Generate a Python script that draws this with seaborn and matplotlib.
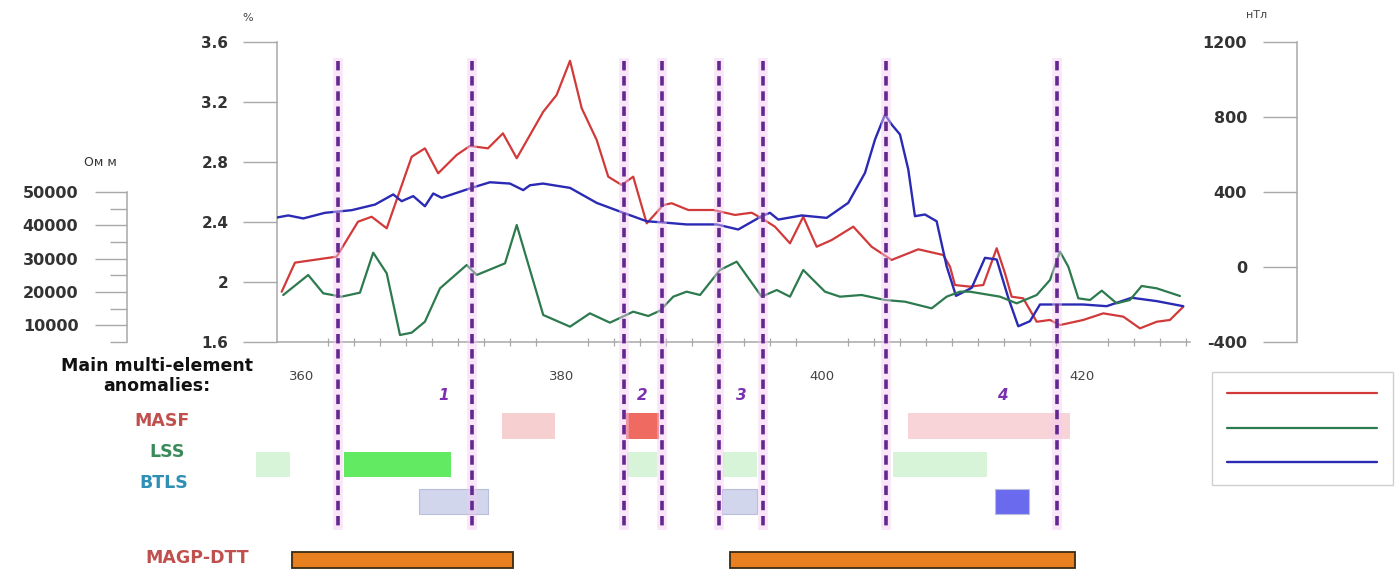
import matplotlib
matplotlib.use("Agg")
import matplotlib.pyplot as plt
from matplotlib.ticker import MultipleLocator
import pandas as pd
import seaborn as sns

# ---- Profile data (distance along profile, km) ----
red_km = [358.44, 359.46, 362.67, 364.31, 365.36, 366.52, 368.44, 369.46, 370.48, 371.90,
          372.92, 374.31, 375.46, 376.52, 378.56, 379.59, 380.62, 381.52, 382.67, 383.56,
          384.59, 385.48, 386.52, 387.79, 388.44, 389.72, 391.64, 393.31, 394.59, 395.36,
          396.38, 397.54, 398.56, 399.59, 400.75, 402.41, 403.82, 405.36, 407.41, 409.33,
          409.85, 410.23, 411.38, 412.41, 413.44, 414.08, 414.59, 415.48, 416.52, 417.54,
          418.31, 420.10, 421.64, 423.18, 424.46, 425.75, 426.77, 427.79]
red_pct = [1.935, 2.129, 2.169, 2.402, 2.435, 2.358, 2.835, 2.891, 2.725, 2.847,
           2.907, 2.891, 2.991, 2.825, 3.135, 3.247, 3.475, 3.158, 2.947, 2.702,
           2.647, 2.702, 2.391, 2.513, 2.525, 2.480, 2.480, 2.447, 2.462, 2.425,
           2.369, 2.258, 2.435, 2.235, 2.280, 2.369, 2.235, 2.147, 2.218, 2.180,
           2.102, 1.980, 1.969, 1.980, 2.225, 2.058, 1.902, 1.891, 1.735, 1.747,
           1.713, 1.747, 1.791, 1.769, 1.691, 1.735, 1.747, 1.835]

green_km = [358.56, 360.48, 361.64, 363.05, 364.46, 365.48, 366.52, 367.54, 368.44, 369.46,
            370.62, 372.67, 373.44, 375.62, 376.52, 378.56, 380.62, 382.15, 383.69, 385.48,
            386.64, 387.54, 388.56, 389.59, 390.62, 392.15, 393.44, 395.36, 396.52, 397.54,
            398.56, 400.23, 401.38, 403.05, 404.85, 406.38, 408.44, 409.59, 410.62, 411.38,
            413.69, 414.98, 416.52, 417.54, 418.31, 418.95, 419.72, 420.62, 421.52, 422.67,
            423.69, 424.59, 425.75, 427.54]
green_ohm = [19100, 25100, 19600, 18600, 19800, 31800, 25600, 7100, 7800, 11100,
             21100, 28100, 25100, 28600, 40100, 13100, 9600, 13600, 10800, 14100,
             12800, 14400, 18600, 20100, 19100, 26600, 29100, 18600, 20600, 18600,
             26600, 20100, 18600, 19100, 17600, 17100, 15100, 18600, 20100, 20100,
             18600, 16600, 19100, 23600, 32100, 27600, 18100, 17600, 20400, 16600,
             17600, 21800, 21100, 18800]

blue_km = [357.92, 358.95, 360.10, 361.77, 363.82, 365.62, 367.02, 367.67, 368.56, 369.46,
           370.10, 370.75, 373.05, 374.46, 376.00, 377.02, 377.54, 378.54, 380.62, 382.67,
           384.72, 386.52, 388.05, 389.59, 391.90, 393.56, 395.36, 396.00, 396.64, 398.44,
           400.36, 402.02, 403.31, 404.08, 404.85, 405.36, 406.00, 406.64, 407.15, 407.92,
           408.82, 409.59, 410.31, 411.52, 412.54, 413.44, 414.33, 415.10, 416.00, 416.77,
           418.31, 420.10, 421.90, 423.82, 425.75, 427.79]
blue_nt = [262, 275, 259, 289, 303, 333, 387, 351, 378, 324,
           392, 369, 422, 452, 445, 410, 436, 445, 422, 342,
           289, 244, 236, 227, 227, 200, 271, 289, 253, 275,
           262, 342, 502, 680, 813, 760, 707, 520, 271, 280,
           244, 4, -154, -111, 49, 40, -164, -316, -289, -200,
           -200, -200, -209, -164, -182, -209]

# ---- Anomaly zones ----
zone_bounds = [362.8, 373.1, 384.8, 387.7, 392.1, 395.5, 404.9, 418.1]
zone_names = ["1", "2", "3", "4"]
zone_name_km = [370.9, 386.2, 393.8, 413.9]

masf_spans = [(375.4, 379.5), (384.9, 387.5), (406.6, 419.1)]
masf_colors = ["#f6d0d0", "#ef6b62", "#f8d4d8"]
lss_spans = [(356.5, 359.1), (363.2, 371.5), (385.0, 387.3), (392.4, 395.0), (405.5, 412.7)]
lss_colors = ["#d8f4d8", "#62ea62", "#d8f4d8", "#d8f4d8", "#d8f4d8"]
btls_spans = [(369.0, 374.3), (392.3, 395.0), (413.3, 415.9)]
btls_colors = ["#d2d6ec", "#d2d6ec", "#6a6aee"]
magp_spans = [(359.2, 376.2), (392.9, 419.5)]

pct_ticks = [1.6, 2.0, 2.4, 2.8, 3.2, 3.6]
pct_labels = ["1.6", "2", "2.4", "2.8", "3.2", "3.6"]
ohm_ticks = [10000, 20000, 30000, 40000, 50000]
nt_ticks = [-400, 0, 400, 800, 1200]
km_ticks = [360, 380, 400, 420]

RED, GREEN, BLUE = "#d23a3a", "#2d7a4e", "#2a2ab4"
GRID_GRAY = "#a8a8a8"
TXT = "#333333"
PURPLE = "#62288f"

sns.set_theme(style="white")
plt.rcParams["font.family"] = ["DejaVu Sans"]
plt.rcParams["axes.unicode_minus"] = False

W, H = 1400, 573
def fx(px):
    return px / W
def fy(py):
    return 1 - py / H

fig = plt.figure(figsize=(W / 100, H / 100), dpi=100)
fig.patch.set_facecolor("white")

L, R, T, B = 277, 1190, 42, 342
ax = fig.add_axes([fx(L), fy(B), (R - L) / W, (B - T) / H])
ax.set_facecolor("white")
ax.set_xlim(358.08, 428.31)
ax.set_ylim(1.6, 3.6)

ax_nt = ax.twinx()
ax_nt.set_ylim(-400, 1200)
ax_ohm = ax.twinx()
ax_ohm.set_ylim(5000, 95000)

df_red = pd.DataFrame({"km": red_km, "v": red_pct})
df_green = pd.DataFrame({"km": green_km, "v": green_ohm})
df_blue = pd.DataFrame({"km": blue_km, "v": blue_nt})

sns.lineplot(data=df_red, x="km", y="v", ax=ax, color=RED, linewidth=1.6, estimator=None)
sns.lineplot(data=df_green, x="km", y="v", ax=ax_ohm, color=GREEN, linewidth=1.6, estimator=None)
sns.lineplot(data=df_blue, x="km", y="v", ax=ax_nt, color=BLUE, linewidth=1.7, estimator=None)
red_line = ax.get_lines()[-1]
green_line = ax_ohm.get_lines()[-1]
blue_line = ax_nt.get_lines()[-1]

for a in (ax, ax_nt, ax_ohm):
    a.set_xlabel("")
    a.set_ylabel("")
    for s in a.spines.values():
        s.set_visible(False)
        s.set_color(GRID_GRAY)
        s.set_linewidth(1.1)

# main axis: percent on the left, distance along the bottom
ax.spines["left"].set_visible(True)
ax.spines["bottom"].set_visible(True)
ax.set_yticks(pct_ticks, labels=pct_labels)
ax.tick_params(axis="y", which="major", direction="out", length=24.5, width=1.0,
               color=GRID_GRAY, pad=10.5, labelsize=11, labelcolor=TXT)
for t in ax.get_yticklabels():
    t.set_fontweight("bold")
ax.set_xticks(km_ticks, labels=[str(v) for v in km_ticks])
ax.xaxis.set_minor_locator(MultipleLocator(2))
ax.tick_params(axis="x", which="major", direction="out", length=9.5, width=1.0,
               color=GRID_GRAY, pad=11, labelsize=9.5, labelcolor="#444444")
ax.tick_params(axis="x", which="minor", direction="inout", length=6, width=0.9,
               color=GRID_GRAY, bottom=True)

# magnetic field axis on the far right, labels to the left of it
ax_nt.spines["left"].set_visible(True)
ax_nt.spines["left"].set_position(("axes", (1297 - L) / (R - L)))
ax_nt.yaxis.set_ticks_position("left")
ax_nt.set_yticks(nt_ticks, labels=[str(v) for v in nt_ticks])
ax_nt.tick_params(axis="y", which="major", direction="out", length=24.5, width=1.0,
                  color=GRID_GRAY, pad=11.5, labelsize=11.5, labelcolor=TXT)
for t in ax_nt.get_yticklabels():
    t.set_fontweight("bold")

# resistivity axis, offset to the left and spanning its own range
ax_ohm.spines["left"].set_visible(True)
ax_ohm.spines["left"].set_position(("axes", (127 - L) / (R - L)))
ax_ohm.spines["left"].set_bounds(5000, 50000)
ax_ohm.yaxis.set_ticks_position("left")
ax_ohm.set_yticks(ohm_ticks, labels=[str(v) for v in ohm_ticks])
ax_ohm.set_yticks([5000, 15000, 25000, 35000, 45000], minor=True)
ax_ohm.tick_params(axis="y", which="major", direction="out", length=23, width=1.0,
                   color=GRID_GRAY, pad=12, labelsize=11.5, labelcolor=TXT)
ax_ohm.tick_params(axis="y", which="minor", direction="out", length=12, width=1.0,
                   color=GRID_GRAY, left=True)
for t in ax_ohm.get_yticklabels():
    t.set_fontweight("bold")

# units
fig.text(fx(248), fy(18), "%", fontsize=8, color="#444444", ha="center", va="center")
fig.text(fx(1257), fy(15), "нТл", fontsize=8, color="#444444", ha="center", va="center")
fig.text(fx(100), fy(163), "Ом м", fontsize=9, color=TXT, ha="center", va="center")

# ---- annotation layer: zones and anomaly strips ----
ax_ann = fig.add_axes([fx(L), 0, (R - L) / W, fy(T)], sharex=ax)
ax_ann.set_ylim(H, T)
ax_ann.axis("off")
ax_ann.patch.set_visible(False)
ax_ann.set_zorder(3)

rows = {"MASF": (426, 26), "LSS": (464.5, 25), "BTLS": (501.5, 25), "MAGP": (560, 16)}

def strip(spans, colors, row, **kw):
    yc, h = rows[row]
    for (a, b), c in zip(spans, colors):
        ax_ann.barh(yc, b - a, left=a, height=h, color=c, clip_on=False, **kw)

strip(masf_spans, masf_colors, "MASF", linewidth=0)
strip(lss_spans, lss_colors, "LSS", linewidth=0)
strip(btls_spans, btls_colors, "BTLS", edgecolor="#b8bedc", linewidth=0.8)
strip(magp_spans, ["#e8801f"] * len(magp_spans), "MAGP", edgecolor="#3a2a12", linewidth=1.3)

ax_ann.vlines(zone_bounds, 58, 530, colors="#f3c9f3", linewidth=7, alpha=0.45)
ax_ann.vlines(zone_bounds, 61, 527, colors=PURPLE, linewidth=2.6,
              linestyles=(0, (2.6, 1.6)))
for k, name in zip(zone_name_km, zone_names):
    ax_ann.text(k, 395, name, ha="center", va="center", color="#7a30b0",
                fontsize=11, fontstyle="italic", fontweight="bold")

# strip labels
fig.text(fx(157), fy(376), "Main multi-element\nanomalies:", ha="center", va="center",
         fontsize=12.5, fontweight="bold", color="#111111", linespacing=1.15)
fig.text(fx(162), fy(421), "MASF", ha="center", va="center", fontsize=12.5,
         fontweight="bold", color="#c0504d")
fig.text(fx(167), fy(452), "LSS", ha="center", va="center", fontsize=12.5,
         fontweight="bold", color="#3a8a5a")
fig.text(fx(164), fy(483), "BTLS", ha="center", va="center", fontsize=12.5,
         fontweight="bold", color="#2f8fb5")
fig.text(fx(197), fy(558), "MAGP-DTT", ha="center", va="center", fontsize=12.5,
         fontweight="bold", color="#c0504d")

# legend box (lines only)
ax.legend(handles=[red_line, green_line, blue_line], labels=["", "", ""],
          loc="upper left", bbox_to_anchor=(fx(1212), fy(372)),
          bbox_transform=fig.transFigure, frameon=True, fancybox=False,
          edgecolor="#c4c4c4", handlelength=10.8, handletextpad=0,
          borderpad=1.1, labelspacing=1.46, fontsize=10, borderaxespad=0)

fig.savefig("out.png", dpi=100, facecolor="white")
